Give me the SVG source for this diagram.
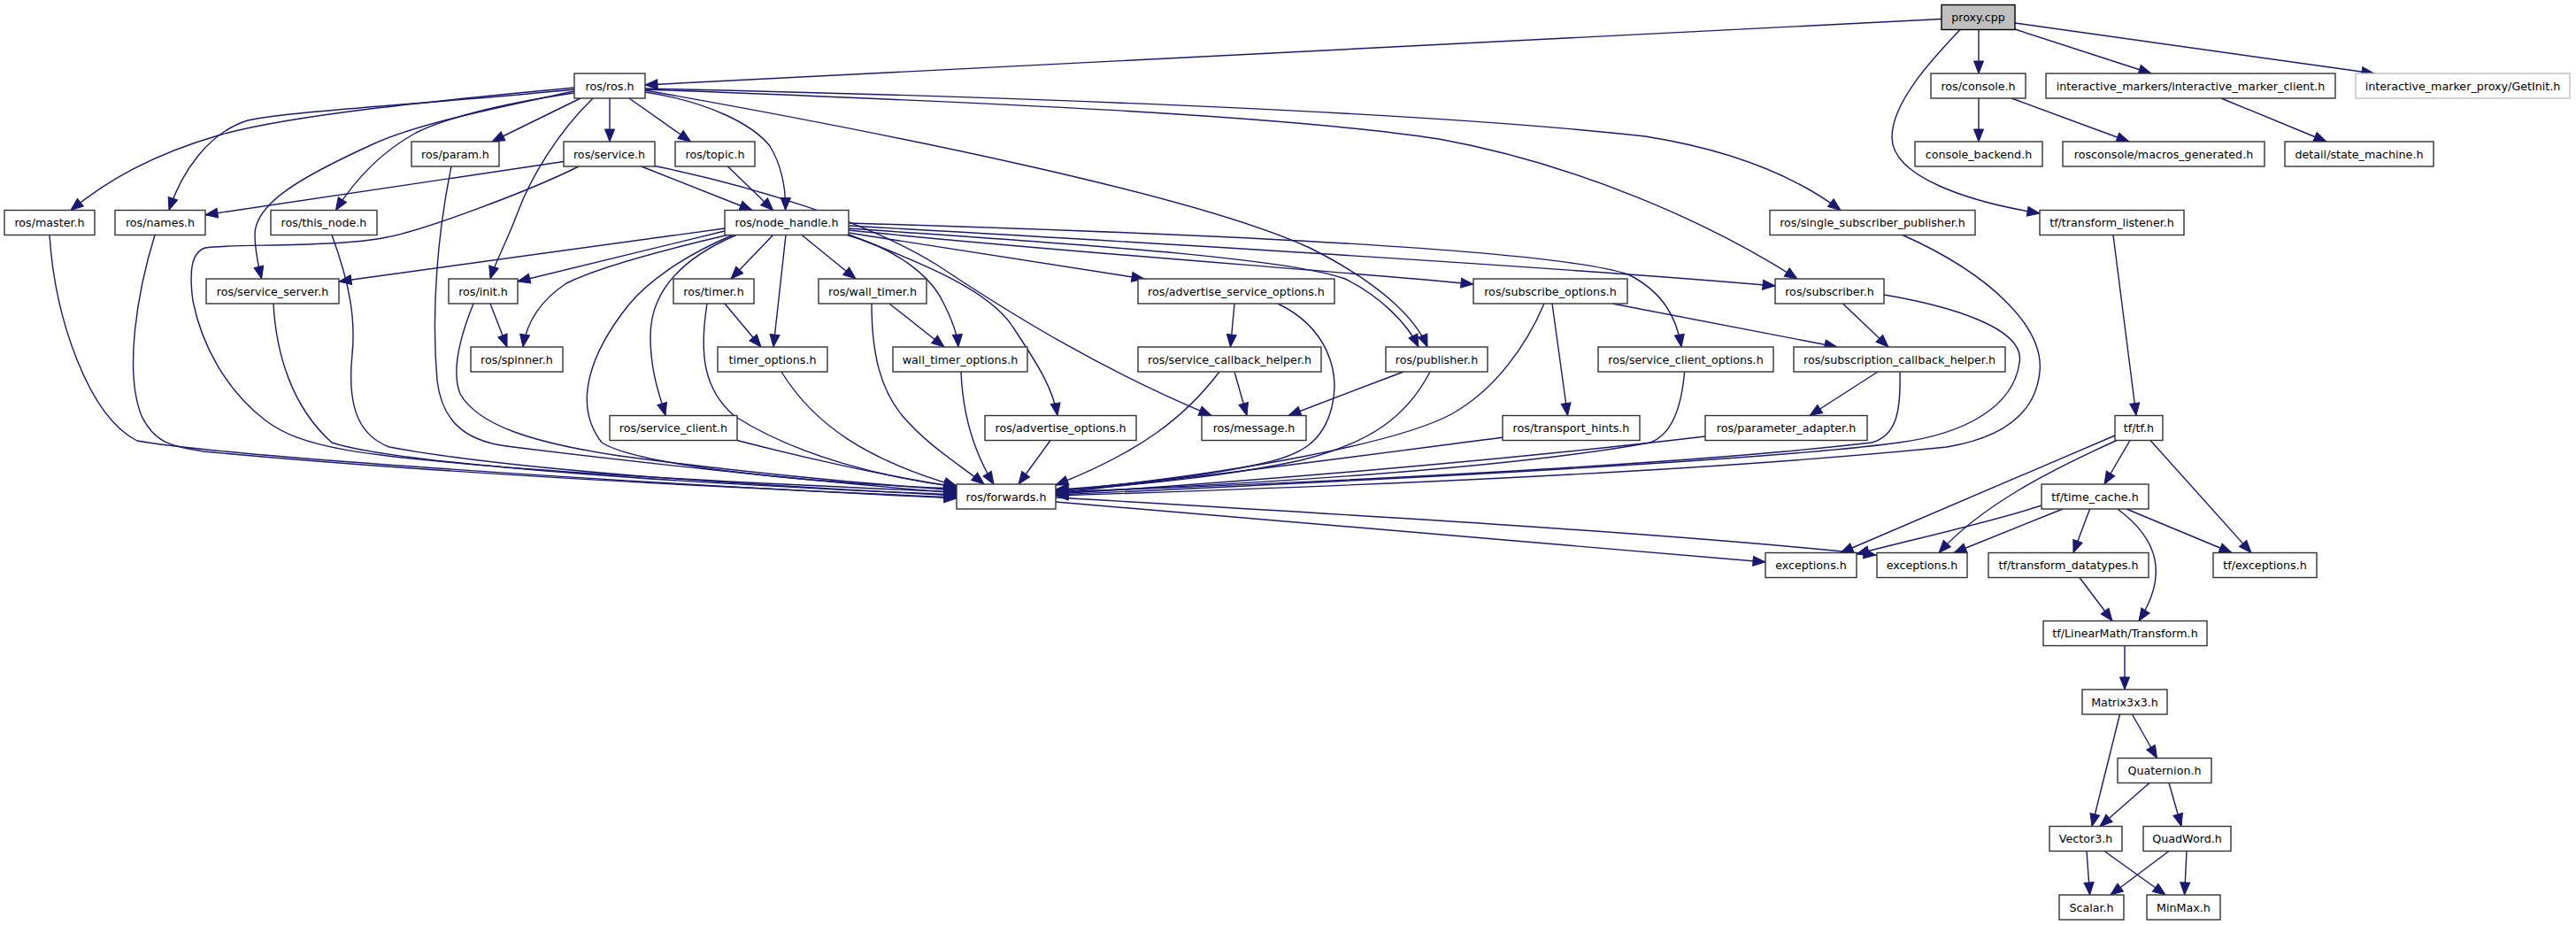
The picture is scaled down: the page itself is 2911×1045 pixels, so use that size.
<svg xmlns="http://www.w3.org/2000/svg" width="2911" height="1045" viewBox="0 0 2911 1045">
<style>
.n rect{fill:#fff;stroke:#333;stroke-width:1.4}
.n text{font-family:"DejaVu Sans","Liberation Sans",sans-serif;font-size:12.7px;text-anchor:middle;fill:#000}
#edges path{fill:none;stroke:#191970;stroke-width:1.4;marker-end:url(#a)}
</style>
<defs>
<marker id="a" markerUnits="userSpaceOnUse" markerWidth="15" markerHeight="12" refX="14" refY="5.5" orient="auto" overflow="visible"><path d="M0,0 L14,5.5 L0,11 z" fill="#191970" stroke="#191970" stroke-width="1"/></marker>
</defs>
<rect width="2911" height="1045" fill="#fff"/>
<g id="edges">
<path d="M2194,21.5 L729,96"/>
<path d="M2236,33.5 L2236,83"/>
<path d="M2277,33 L2431,83"/>
<path d="M2277,26 L2683,83"/>
<path d="M2215,33.5 C2185,65 2138,115 2138,155 C2138,200 2225,228 2305,241"/>
<path d="M649,99 C480,115 330,130 250,152 C170,175 120,205 80,237.5"/>
<path d="M649,101 C480,118 330,125 280,136 C235,150 205,195 191,237.5"/>
<path d="M649,103 C560,122 470,140 419,164 C340,200 288,230 288,265 C288,285 292,300 295.6,315"/>
<path d="M649,105 C560,118 500,135 470,150 C430,172 400,205 379.4,237.5"/>
<path d="M656,111 L556,160"/>
<path d="M670,111 C630,150 600,200 585,240 C572,275 560,295 554,315"/>
<path d="M689,111 L689,160"/>
<path d="M711,111 L780.5,160"/>
<path d="M729,104 C800,115 850,140 870,165 C885,190 888,215 887.6,237.5"/>
<path d="M729,102 C1000,150 1350,220 1480,280 C1560,320 1600,360 1613,392"/>
<path d="M729,100 C1100,108 1600,125 1859,154 C1960,170 2030,200 2080,237.5"/>
<path d="M729,101 C1100,115 1450,130 1626,157 C1780,185 1930,250 2031,315"/>
<path d="M637,182.5 L232,242.7"/>
<path d="M654,188 C600,215 480,260 437,268 C380,280 260,275 232,280 C215,285 214,310 218,340 C228,390 255,440 300,475 C340,505 400,515 600,530 C800,545 1000,552 1081,556"/>
<path d="M724.7,188 L850,237.5"/>
<path d="M740,187.5 C850,210 980,250 1060,300 C1150,360 1250,420 1369,469.5"/>
<path d="M822.4,188 L873.6,237.5"/>
<path d="M510,188 C495,260 487,350 494,430 C500,480 530,500 580,505 C700,520 900,542 1081,557"/>
<path d="M56,265.5 C62,360 100,470 155,498 C250,515 700,545 1081,563"/>
<path d="M175,265.5 C155,330 140,420 160,470 C175,500 190,503 230,510 C500,535 800,550 1081,562"/>
<path d="M375,265.5 C395,320 402,360 398,400 C393,450 400,490 440,505 C600,535 900,550 1081,560"/>
<path d="M309,343 C312,400 330,460 375,500 C450,525 800,548 1081,559"/>
<path d="M554,343 L573,392"/>
<path d="M535,343 C520,380 510,420 520,445 C540,480 600,500 700,515 C850,535 1000,548 1081,554"/>
<path d="M819,258 L383,318"/>
<path d="M819,261 L585,318"/>
<path d="M822,265.5 C760,280 680,300 640,320 C610,340 595,365 591,392"/>
<path d="M828,265.5 C770,290 730,320 710,345 C670,395 645,455 680,500 C720,525 900,545 1081,552"/>
<path d="M832,265.5 C770,292 735,330 735,380 C735,420 745,445 752,469.5"/>
<path d="M873.6,265.5 L826,315"/>
<path d="M888,265.5 L874,392"/>
<path d="M906,265.5 L967,315"/>
<path d="M957,265.5 C1010,280 1050,310 1065,340 C1078,365 1082,380 1083,392"/>
<path d="M959,265 C1050,300 1120,330 1145,370 C1175,415 1190,440 1195,469.5"/>
<path d="M959,263 L1293,315"/>
<path d="M959,260 C1200,285 1500,305 1665,321"/>
<path d="M959,255 C1400,280 1800,305 2006,323"/>
<path d="M959,252 C1300,262 1750,280 1840,310 C1880,330 1895,360 1900,392"/>
<path d="M959,258 C1200,275 1450,290 1520,315 C1560,335 1590,365 1603,392"/>
<path d="M819,343 L860,392"/>
<path d="M799,343 C790,400 795,440 830,470 C900,515 1000,540 1081,550"/>
<path d="M883,420 C920,480 980,520 1081,549"/>
<path d="M1005,343 L1067,392"/>
<path d="M985,343 C985,400 995,440 1020,470 C1050,505 1085,525 1112,547"/>
<path d="M1086,420 C1088,470 1100,510 1123,547"/>
<path d="M833,497.5 C900,515 1000,538 1081,550"/>
<path d="M1187,497.5 L1151,547"/>
<path d="M1395,343 L1390.5,392"/>
<path d="M1444,343 C1500,370 1515,420 1505,460 C1495,500 1470,515 1420,525 C1350,540 1250,550 1193,553"/>
<path d="M1395,420 L1409,469.5"/>
<path d="M1378,420 C1340,470 1290,510 1193,548"/>
<path d="M1586,420 L1456,469.5"/>
<path d="M1616,420 C1590,470 1550,500 1470,520 C1400,535 1300,548 1193,554"/>
<path d="M1822,343 L2076,392"/>
<path d="M1754,343 L1771.5,469.5"/>
<path d="M1745,343 C1725,390 1690,440 1640,468 C1580,500 1400,535 1193,555"/>
<path d="M1903.6,420 C1900,460 1890,490 1865,500 C1700,530 1400,548 1193,556"/>
<path d="M1699,494 C1500,520 1350,540 1193,557"/>
<path d="M1927,493 C1700,520 1400,545 1193,558"/>
<path d="M2082.5,343 L2134,392"/>
<path d="M2129,333 C2200,345 2290,370 2282,410 C2275,460 2220,490 2146,500 C2000,520 1500,545 1193,559"/>
<path d="M2122,420 L2045,469.5"/>
<path d="M2147,420 C2148,460 2145,492 2115,500 C1900,525 1500,545 1193,556"/>
<path d="M2150,265.5 C2250,310 2310,370 2305,420 C2300,470 2260,495 2200,505 C1900,535 1500,550 1193,560"/>
<path d="M1193,567 L1995,635"/>
<path d="M1193,562 C1500,580 1900,603 2120,627"/>
<path d="M2236,111 L2236,160"/>
<path d="M2273,111 L2406,160"/>
<path d="M2510,111 L2629,160"/>
<path d="M2388,265.5 L2414,469.5"/>
<path d="M2390,492 L2080,624.5"/>
<path d="M2392,497.5 C2320,530 2240,570 2191,624.5"/>
<path d="M2407,497.5 L2378,547"/>
<path d="M2430,497.5 L2544,624.5"/>
<path d="M2307,571 C2250,590 2150,612 2098,626"/>
<path d="M2331,575 L2208,624.5"/>
<path d="M2361.6,575 L2343,624.5"/>
<path d="M2393,575 C2440,610 2450,650 2417,701.5"/>
<path d="M2403,575 L2522,624.5"/>
<path d="M2350,652.5 L2387,701.5"/>
<path d="M2401,729.5 L2401,779"/>
<path d="M2395.5,807 L2364,933.5"/>
<path d="M2409.5,807 L2437.5,856.5"/>
<path d="M2429,884.5 L2373,933.5"/>
<path d="M2451,884.5 L2465,933.5"/>
<path d="M2358,961.5 L2361.6,1011"/>
<path d="M2378,961.5 L2447,1011"/>
<path d="M2451,961.5 L2385,1011"/>
<path d="M2471,961.5 L2468.6,1011"/>
</g>
<g id="n-proxy" class="n"><rect x="2194" y="5.5" width="83" height="28" style="fill:#bfbfbf;stroke:#000"/><text x="2235.5" y="24">proxy.cpp</text></g>
<g id="n-ros" class="n"><rect x="649" y="83" width="80" height="28"/><text x="689" y="101.5">ros/ros.h</text></g>
<g id="n-console" class="n"><rect x="2182" y="83" width="107" height="28"/><text x="2235.5" y="101.5">ros/console.h</text></g>
<g id="n-imc" class="n"><rect x="2312" y="83" width="327" height="28"/><text x="2475.5" y="101.5">interactive_markers/interactive_marker_client.h</text></g>
<g id="n-getinit" class="n"><rect x="2662" y="83" width="242" height="28" style="stroke:#bfbfbf"/><text x="2783" y="101.5">interactive_marker_proxy/GetInit.h</text></g>
<g id="n-param" class="n"><rect x="465" y="160" width="99" height="28"/><text x="514.5" y="178.5">ros/param.h</text></g>
<g id="n-service" class="n"><rect x="637" y="160" width="103" height="28"/><text x="688.5" y="178.5">ros/service.h</text></g>
<g id="n-topic" class="n"><rect x="763" y="160" width="90" height="28"/><text x="808" y="178.5">ros/topic.h</text></g>
<g id="n-console-backend" class="n"><rect x="2164" y="160" width="144" height="28"/><text x="2236" y="178.5">console_backend.h</text></g>
<g id="n-macros" class="n"><rect x="2331" y="160" width="228" height="28"/><text x="2445" y="178.5">rosconsole/macros_generated.h</text></g>
<g id="n-state-machine" class="n"><rect x="2582" y="160" width="168" height="28"/><text x="2666" y="178.5">detail/state_machine.h</text></g>
<g id="n-master" class="n"><rect x="5" y="237.5" width="102" height="28"/><text x="56" y="256">ros/master.h</text></g>
<g id="n-names" class="n"><rect x="130" y="237.5" width="102" height="28"/><text x="181" y="256">ros/names.h</text></g>
<g id="n-this-node" class="n"><rect x="306" y="237.5" width="120" height="28"/><text x="366" y="256">ros/this_node.h</text></g>
<g id="n-node-handle" class="n"><rect x="819" y="237.5" width="140" height="28"/><text x="889" y="256">ros/node_handle.h</text></g>
<g id="n-ssp" class="n"><rect x="2000" y="237.5" width="232" height="28"/><text x="2116" y="256">ros/single_subscriber_publisher.h</text></g>
<g id="n-tl" class="n"><rect x="2305" y="237.5" width="163" height="28"/><text x="2386.5" y="256">tf/transform_listener.h</text></g>
<g id="n-service-server" class="n"><rect x="233" y="315" width="150" height="28"/><text x="308" y="333.5">ros/service_server.h</text></g>
<g id="n-init" class="n"><rect x="507" y="315" width="78" height="28"/><text x="546" y="333.5">ros/init.h</text></g>
<g id="n-timer" class="n"><rect x="761" y="315" width="91" height="28"/><text x="806.5" y="333.5">ros/timer.h</text></g>
<g id="n-wall-timer" class="n"><rect x="925" y="315" width="122" height="28"/><text x="986" y="333.5">ros/wall_timer.h</text></g>
<g id="n-aso" class="n"><rect x="1286" y="315" width="222" height="28"/><text x="1397" y="333.5">ros/advertise_service_options.h</text></g>
<g id="n-subopts" class="n"><rect x="1665" y="315" width="174" height="28"/><text x="1752" y="333.5">ros/subscribe_options.h</text></g>
<g id="n-subscriber" class="n"><rect x="2006" y="315" width="123" height="28"/><text x="2067.5" y="333.5">ros/subscriber.h</text></g>
<g id="n-spinner" class="n"><rect x="532" y="392" width="104" height="28"/><text x="584" y="410.5">ros/spinner.h</text></g>
<g id="n-timer-options" class="n"><rect x="811" y="392" width="124" height="28"/><text x="873" y="410.5">timer_options.h</text></g>
<g id="n-wto" class="n"><rect x="1009" y="392" width="152" height="28"/><text x="1085" y="410.5">wall_timer_options.h</text></g>
<g id="n-sch" class="n"><rect x="1286" y="392" width="207" height="28"/><text x="1389.5" y="410.5">ros/service_callback_helper.h</text></g>
<g id="n-publisher" class="n"><rect x="1566" y="392" width="115" height="28"/><text x="1623.5" y="410.5">ros/publisher.h</text></g>
<g id="n-sco" class="n"><rect x="1806" y="392" width="198" height="28"/><text x="1905" y="410.5">ros/service_client_options.h</text></g>
<g id="n-subcb" class="n"><rect x="2027" y="392" width="239" height="28"/><text x="2146.5" y="410.5">ros/subscription_callback_helper.h</text></g>
<g id="n-service-client" class="n"><rect x="689" y="469.5" width="144" height="28"/><text x="761" y="488">ros/service_client.h</text></g>
<g id="n-ao" class="n"><rect x="1113" y="469.5" width="171" height="28"/><text x="1198.5" y="488">ros/advertise_options.h</text></g>
<g id="n-message" class="n"><rect x="1358" y="469.5" width="118" height="28"/><text x="1417" y="488">ros/message.h</text></g>
<g id="n-th" class="n"><rect x="1698" y="469.5" width="155" height="28"/><text x="1775.5" y="488">ros/transport_hints.h</text></g>
<g id="n-pa" class="n"><rect x="1927" y="469.5" width="183" height="28"/><text x="2018.5" y="488">ros/parameter_adapter.h</text></g>
<g id="n-tf" class="n"><rect x="2390" y="469.5" width="54" height="28"/><text x="2417" y="488">tf/tf.h</text></g>
<g id="n-forwards" class="n"><rect x="1081" y="547" width="112" height="28"/><text x="1137" y="565.5">ros/forwards.h</text></g>
<g id="n-time-cache" class="n"><rect x="2307" y="547" width="121" height="28"/><text x="2367.5" y="565.5">tf/time_cache.h</text></g>
<g id="n-exceptions1" class="n"><rect x="1995" y="624.5" width="103" height="28"/><text x="2046.5" y="643">exceptions.h</text></g>
<g id="n-exceptions2" class="n"><rect x="2121" y="624.5" width="102" height="28"/><text x="2172" y="643">exceptions.h</text></g>
<g id="n-tdt" class="n"><rect x="2247" y="624.5" width="181" height="28"/><text x="2337.5" y="643">tf/transform_datatypes.h</text></g>
<g id="n-tfexc" class="n"><rect x="2501" y="624.5" width="117" height="28"/><text x="2559.5" y="643">tf/exceptions.h</text></g>
<g id="n-transform" class="n"><rect x="2309" y="701.5" width="185" height="28"/><text x="2401.5" y="720">tf/LinearMath/Transform.h</text></g>
<g id="n-matrix" class="n"><rect x="2353" y="779" width="96" height="28"/><text x="2401" y="797.5">Matrix3x3.h</text></g>
<g id="n-quaternion" class="n"><rect x="2393" y="856.5" width="106" height="28"/><text x="2446" y="875">Quaternion.h</text></g>
<g id="n-vector3" class="n"><rect x="2316" y="933.5" width="82" height="28"/><text x="2357" y="952">Vector3.h</text></g>
<g id="n-quadword" class="n"><rect x="2422" y="933.5" width="99" height="28"/><text x="2471.5" y="952">QuadWord.h</text></g>
<g id="n-scalar" class="n"><rect x="2327" y="1011" width="73" height="28"/><text x="2363.5" y="1029.5">Scalar.h</text></g>
<g id="n-minmax" class="n"><rect x="2426" y="1011" width="83" height="28"/><text x="2467.5" y="1029.5">MinMax.h</text></g>
</svg>
